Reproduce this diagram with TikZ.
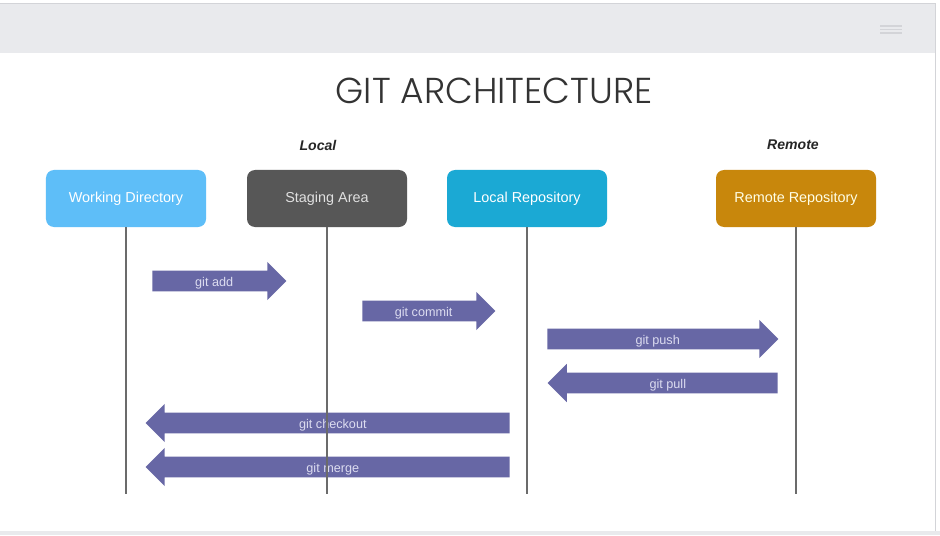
\documentclass[tikz,border=0pt]{standalone}
\usepackage{fontspec}
\setmainfont{Liberation Sans}
\newfontfamily\titlefont{Poppins Light}
\usetikzlibrary{shapes.arrows}

\definecolor{barfill}{HTML}{E9EAED}
\definecolor{barline}{HTML}{D3D4D8}
\definecolor{wdfill}{HTML}{5EBEF8}
\definecolor{safill}{HTML}{575757}
\definecolor{lrfill}{HTML}{1BA9D4}
\definecolor{rrfill}{HTML}{C8870C}
\definecolor{arrowfill}{HTML}{6767A5}
\definecolor{arrowtext}{HTML}{DCDCF0}
\definecolor{lifeline}{HTML}{6B6B6B}

\begin{document}
\begin{tikzpicture}[
        x=0.2mm, y=-0.2mm,
        area/.style={rectangle, rounded corners=1.6mm, minimum width=32mm, minimum height=11.4mm,
            text=white, font=\fontsize{8.2}{10}\selectfont},
        side/.style={font=\fontsize{8}{10}\selectfont\bfseries\itshape, text=black!85},
        garrow/.style={single arrow, fill=arrowfill, text=arrowtext, font=\fontsize{7.2}{9}\selectfont,
            inner xsep=0pt, inner ysep=0pt, text height=3.1mm, text depth=0.9mm,
            single arrow head extend=1.75mm, anchor=tail},
        back/.style={shape border rotate=180},
        life/.style={draw=lifeline, line width=0.4mm}
    ]
        \useasboundingbox[fill=white] (0,0) rectangle (940,535);
        \fill[barfill] (0,3) rectangle (935,53);
        \draw[barline] (0,3) -- (935,3) -- (935,531);
        \fill[barfill] (0,531) rectangle (940,535);
        \foreach \y in {26,29.5,33}
            \draw[barline, line width=0.3mm] (880,\y) -- (902,\y);

        \node[font=\titlefont\fontsize{20.5}{24}\selectfont, text=black!80] (title) at (494,91) {GIT ARCHITECTURE};

        \node[side] (local) at (318,145) {Local};
        \node[side] (remote) at (793,145) {Remote};

        \node[garrow, minimum height=26.8mm] (add) at (152,281) {git add};
        \node[garrow, minimum height=26.6mm] (commit) at (362,311) {git commit};
        \node[garrow, minimum height=46.2mm] (push) at (547,339) {git push};
        \node[garrow, back, minimum height=46mm] (pull) at (778,383) {git pull};
        \node[garrow, back, minimum height=72.8mm] (checkout) at (510,423) {git checkout};
        \node[garrow, back, minimum height=72.8mm] (merge) at (510,467) {git merge};

        \node[area, fill=wdfill] (wd) at (126,198.5) {Working Directory};
        \node[area, fill=safill, text=white!88!black] (sa) at (327,198.5) {Staging Area};
        \node[area, fill=lrfill] (lr) at (527,198.5) {Local Repository};
        \node[area, fill=rrfill, text=white!90!yellow] (rr) at (796,198.5) {Remote Repository};

        \foreach \n in {wd,sa,lr,rr}
            \draw[life] (\n.south) -- (\n.south |- 0,494);
    \end{tikzpicture}
\end{document}
